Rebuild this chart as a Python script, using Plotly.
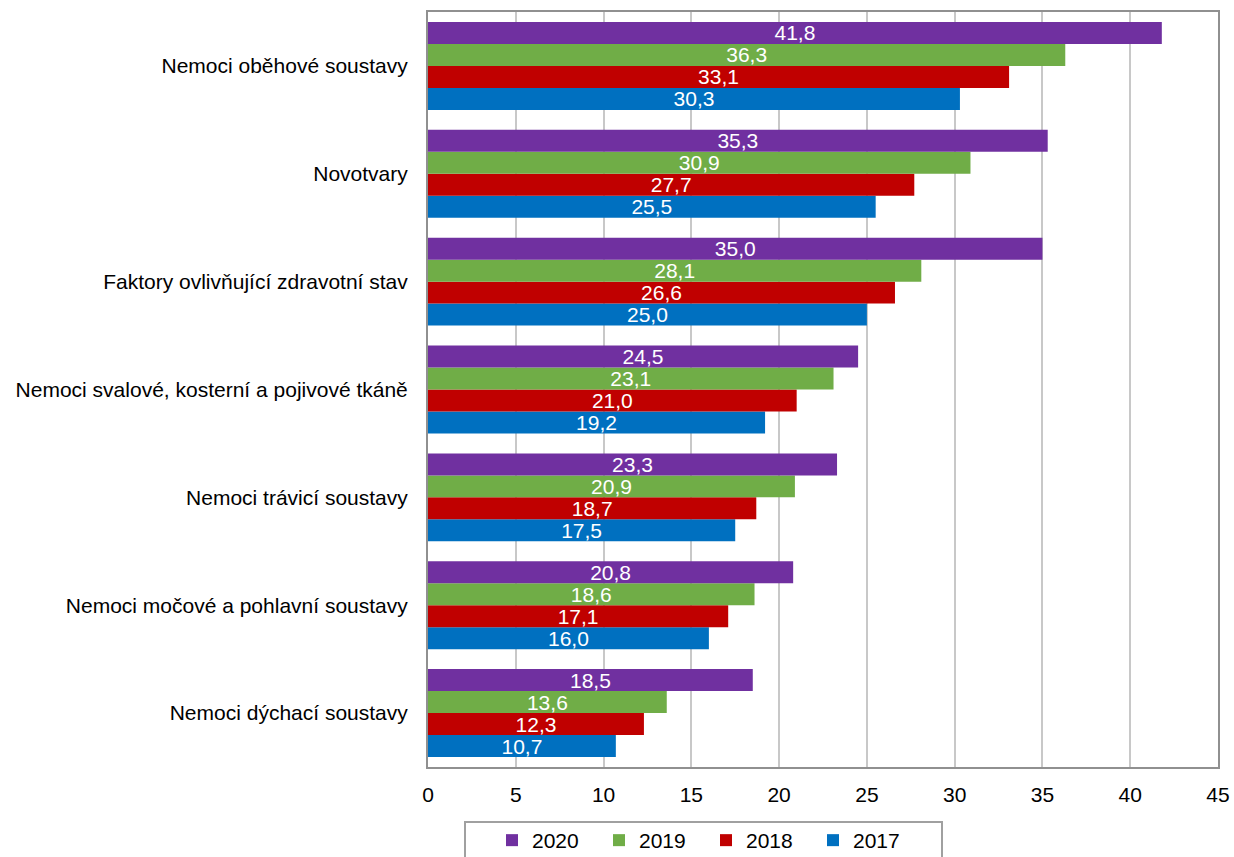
import plotly.graph_objects as go

categories = [
    "Nemoci oběhové soustavy",
    "Novotvary",
    "Faktory ovlivňující zdravotní stav",
    "Nemoci svalové, kosterní a pojivové tkáně",
    "Nemoci trávicí soustavy",
    "Nemoci močové a pohlavní soustavy",
    "Nemoci dýchací soustavy",
]
v2020 = [41.8, 35.3, 35.0, 24.5, 23.3, 20.8, 18.5]
v2019 = [36.3, 30.9, 28.1, 23.1, 20.9, 18.6, 13.6]
v2018 = [33.1, 27.7, 26.6, 21.0, 18.7, 17.1, 12.3]
v2017 = [30.3, 25.5, 25.0, 19.2, 17.5, 16.0, 10.7]
x_ticks = [0, 5, 10, 15, 20, 25, 30, 35, 40, 45]

series = [
    ("2017", v2017, "#0070C0"),
    ("2018", v2018, "#C00000"),
    ("2019", v2019, "#70AD47"),
    ("2020", v2020, "#7030A0"),
]

FONT = "Liberation Sans, Arial, sans-serif"
PL, PR, PT, PB = 428, 1218, 12, 767
pw, ph = PR - PL, PB - PT

fig = go.Figure()
for name, vals, color in series:
    fig.add_trace(go.Bar(
        y=categories, x=vals, name=name, orientation="h",
        marker=dict(color=color, line=dict(width=0)),
        text=[f"{v:.1f}".replace(".", ",") for v in vals],
        textposition="inside", insidetextanchor="middle",
        constraintext="none",
        textfont=dict(color="white", size=21, family=FONT),
        cliponaxis=False,
    ))

# legend frame
fig.add_shape(
    type="rect", xref="paper", yref="paper",
    x0=(465 - PL) / pw, x1=(942 - PL) / pw,
    y0=-(822 - PB) / ph, y1=-(875 - PB) / ph,
    line=dict(color="#A0A0A0", width=2), fillcolor="rgba(0,0,0,0)",
    layer="above",
)

fig.update_layout(
    width=1234, height=857,
    margin=dict(l=PL, r=1234 - PR, t=PT, b=857 - PB, autoexpand=False),
    barmode="group", bargap=0.185, bargroupgap=0,
    plot_bgcolor="white", paper_bgcolor="white",
    font=dict(family=FONT, size=21, color="black"),
    showlegend=True,
    legend=dict(
        orientation="h", traceorder="reversed",
        x=(492 - PL) / pw, xanchor="left",
        y=-(820 - PB) / ph, yanchor="top",
        borderwidth=0, bgcolor="rgba(0,0,0,0)",
        font=dict(size=21, family=FONT),
        entrywidth=62, entrywidthmode="pixels",
    ),
    xaxis=dict(
        range=[0, 45], tickvals=x_ticks, showgrid=True, gridcolor="#C8C8C8",
        gridwidth=2, zeroline=False, showline=True, linecolor="#909090",
        linewidth=2, mirror=True, ticks="outside", ticklen=8,
        tickcolor="rgba(0,0,0,0)", fixedrange=True,
    ),
    yaxis=dict(
        categoryorder="array", categoryarray=categories[::-1],
        showline=True, linecolor="#909090", linewidth=2, mirror=True,
        ticks="", ticklabelstandoff=14, showgrid=False,
    ),
)

fig.write_html("out.html")
